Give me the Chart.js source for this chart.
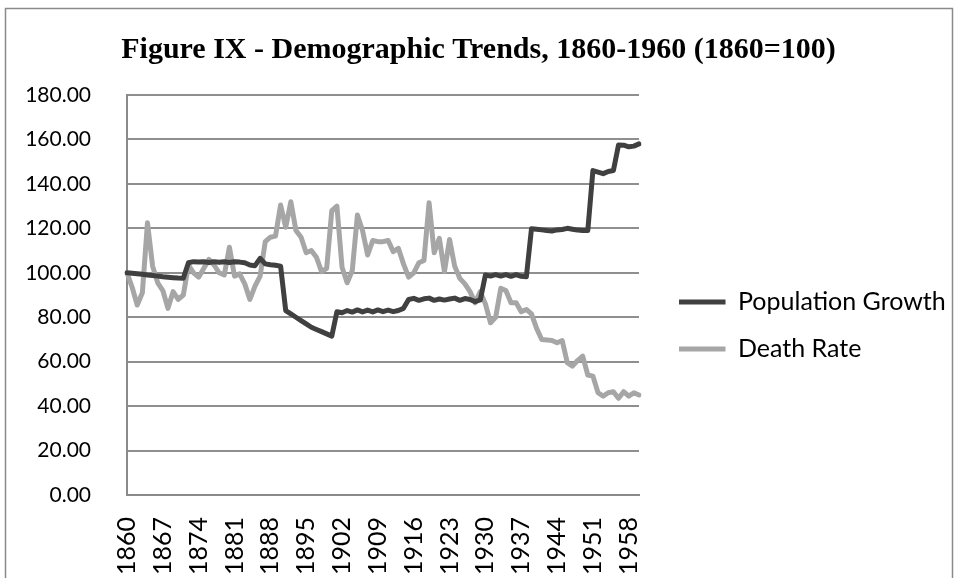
<!DOCTYPE html>
<html>
<head>
<meta charset="utf-8">
<script src="https://cdn.jsdelivr.net/npm/chart.js@4.4.1/dist/chart.umd.min.js"></script>
<style>
  html, body { margin: 0; padding: 0; background: #ffffff; }
  #c { display: block; }
</style>
</head>
<body>
<canvas id="c" width="957" height="578"></canvas>
<script>
const years = [
  1860,1861,1862,1863,1864,1865,1866,1867,1868,1869,
  1870,1871,1872,1873,1874,1875,1876,1877,1878,1879,
  1880,1881,1882,1883,1884,1885,1886,1887,1888,1889,
  1890,1891,1892,1893,1894,1895,1896,1897,1898,1899,
  1900,1901,1902,1903,1904,1905,1906,1907,1908,1909,
  1910,1911,1912,1913,1914,1915,1916,1917,1918,1919,
  1920,1921,1922,1923,1924,1925,1926,1927,1928,1929,
  1930,1931,1932,1933,1934,1935,1936,1937,1938,1939,
  1940,1941,1942,1943,1944,1945,1946,1947,1948,1949,
  1950,1951,1952,1953,1954,1955,1956,1957,1958,1959,
  1960
];

const populationGrowth = [
  100, 99.8, 99.6, 99.3, 99, 98.8, 98.5, 98.2, 98, 97.8,
  97.6, 97.5, 104.5, 105, 104.8, 105, 104.6, 105, 104.7, 105,
  104.6, 105, 104.8, 104.5, 103.5, 103.2, 106.5, 104, 103.6, 103.4,
  103, 83, 81.5, 80, 78.5, 77, 75.5, 74.5, 73.5, 72.5,
  71.5, 82.5, 82, 83, 82.3, 83.3, 82.4, 83.2, 82.4, 83.3,
  82.5, 83.2, 82.5, 83, 84, 88, 88.5, 87.6, 88.3, 88.6,
  87.6, 88.2, 87.7, 88.2, 88.6, 87.6, 88.4, 88, 87, 87.8,
  99, 98.5, 99.2, 98.5, 99.2, 98.4, 99.2, 98.4, 98.2, 119.8,
  119.6, 119.3, 119, 118.8, 119.3, 119.5, 120, 119.6, 119.2, 119,
  119, 146, 145.3, 144.6, 145.6, 146, 157.5, 157.4, 156.7, 157,
  158
];

const deathRate = [
  100, 93.5, 85.5, 91, 122.5, 103, 95.5, 92, 84, 91.5,
  88, 90, 103.5, 100, 98, 102, 106, 103.5, 100, 99,
  111.5, 98.5, 99.5, 95, 88, 94, 98.5, 114, 116, 116.5,
  130.5, 120.5, 132, 119, 116, 109, 110, 107, 100.5, 102,
  128, 130, 102.5, 95.5, 101, 126, 119, 108, 114.5, 114,
  114, 114.5, 109.5, 111, 104, 98, 100, 104.5, 105.5, 131.5,
  109, 115.5, 100.5, 115, 103, 97.5, 95, 91.5, 86.5, 91.5,
  86, 77.5, 80, 93, 92, 86.5, 86.5, 82.5, 83.5, 81.5,
  75, 70, 69.8, 69.5, 68.5, 69.5, 59.5, 58, 60.5, 62.5,
  54, 53.5, 46, 44.5, 46, 46.5, 43.5, 46.5, 44.5, 46,
  45
];

const tickYears = [1860,1867,1874,1881,1888,1895,1902,1909,1916,1923,1930,1937,1944,1951,1958];
const yTicks = [0,20,40,60,80,100,120,140,160,180];

const seriesNames = ['Population Growth', 'Death Rate'];
const titleText = 'Figure IX - Demographic Trends, 1860-1960 (1860=100)';

const sansFont = "Lato, 'Open Sans', 'Noto Sans', sans-serif";

const frame = {
  id: 'frame',
  beforeDraw(chart) {
    const ctx = chart.ctx;
    ctx.save();
    ctx.fillStyle = '#ffffff';
    ctx.fillRect(0, 0, chart.width, chart.height);
    ctx.strokeStyle = '#8a8a8a';
    ctx.lineWidth = 1.5;
    ctx.strokeRect(5.5, 8.5, 947, 600);
    ctx.restore();
  }
};

const legendPlace = {
  id: 'legendPlace',
  afterLayout(chart) {
    const lg = chart.legend;
    if (!lg) return;
    const w = lg.width, h = lg.height;
    const pad = lg.options.labels.padding;
    const fs = lg.options.labels.font.size;
    lg.left = 679 - pad;
    lg.right = lg.left + w;
    lg.top = 302 - fs / 2 - pad;
    lg.bottom = lg.top + h;
  }
};

new Chart(document.getElementById('c'), {
  type: 'line',
  data: {
    labels: years,
    datasets: [
      {
        label: seriesNames[0],
        data: populationGrowth,
        borderColor: '#404040',
        backgroundColor: '#404040',
        borderWidth: 5,
        pointRadius: 0,
        tension: 0,
        borderCapStyle: 'round',
        borderJoinStyle: 'round'
      },
      {
        label: seriesNames[1],
        data: deathRate,
        borderColor: '#a6a6a6',
        backgroundColor: '#a6a6a6',
        borderWidth: 5,
        pointRadius: 0,
        tension: 0,
        borderCapStyle: 'round',
        borderJoinStyle: 'round'
      }
    ]
  },
  options: {
    responsive: false,
    animation: false,
    devicePixelRatio: 1,
    layout: { padding: { left: 0, right: 0, top: 0, bottom: 0 } },
    plugins: {
      title: {
        display: true,
        text: titleText,
        color: '#000000',
        font: { family: "'Liberation Serif', 'Times New Roman', serif", size: 30, weight: 'bold', lineHeight: 1.2 },
        padding: { top: 32, bottom: 27 }
      },
      legend: {
        display: true,
        position: 'chartArea',
        align: 'start',
        labels: {
          usePointStyle: true,
          pointStyle: 'line',
          pointStyleWidth: 46.5,
          color: '#000000',
          padding: 22,
          font: { family: sansFont, size: 25 }
        }
      },
      tooltip: { enabled: false }
    },
    scales: {
      x: {
        type: 'category',
        offset: false,
        grid: { display: false, drawTicks: false },
        border: { display: true, color: '#8a8a8a', width: 2 },
        ticks: {
          autoSkip: false,
          minRotation: 90,
          maxRotation: 90,
          padding: 22,
          color: '#000000',
          font: { family: sansFont, size: 25 },
          callback: function (value, index) {
            const yr = years[index];
            return tickYears.includes(yr) ? String(yr) : null;
          }
        },
        afterFit(scale) { scale.height = 83; }
      },
      y: {
        min: yTicks[0],
        max: yTicks[yTicks.length - 1],
        grid: { color: '#8f8f8f', lineWidth: 2, drawTicks: false },
        border: { display: true, color: '#8a8a8a', width: 2 },
        ticks: {
          stepSize: 20,
          padding: 36,
          color: '#000000',
          font: { family: sansFont, size: 21 },
          callback: v => Number(v).toFixed(2)
        },
        afterFit(scale) { scale.width = 127; }
      },
      legendSpace: {
        type: 'linear',
        position: 'right',
        display: true,
        grid: { display: false, drawTicks: false },
        border: { display: false },
        ticks: { display: false },
        afterFit(scale) { scale.width = 318; }
      }
    }
  },
  plugins: [frame, legendPlace]
});
</script>
</body>
</html>
